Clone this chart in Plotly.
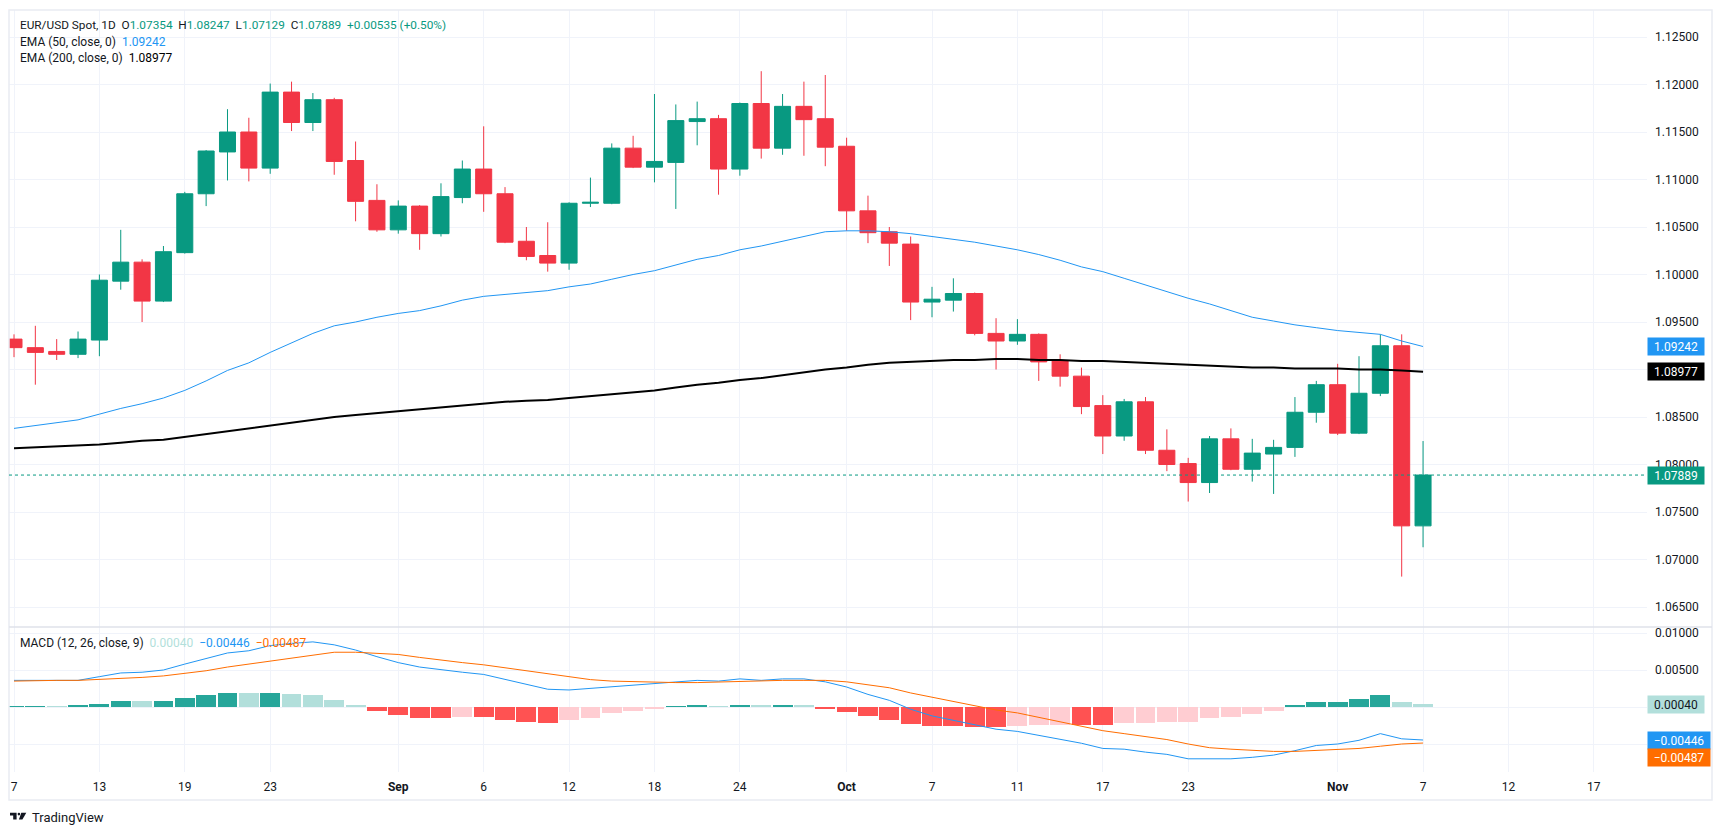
import plotly.graph_objects as go

# ---------------- data ----------------
dates = ["2024-08-07","2024-08-08","2024-08-09","2024-08-12","2024-08-13","2024-08-14","2024-08-15","2024-08-16",
         "2024-08-19","2024-08-20","2024-08-21","2024-08-22","2024-08-23","2024-08-26","2024-08-27","2024-08-28",
         "2024-08-29","2024-08-30","2024-09-02","2024-09-03","2024-09-04","2024-09-05","2024-09-06","2024-09-09",
         "2024-09-10","2024-09-11","2024-09-12","2024-09-13","2024-09-16","2024-09-17","2024-09-18","2024-09-19",
         "2024-09-20","2024-09-23","2024-09-24","2024-09-25","2024-09-26","2024-09-27","2024-09-30","2024-10-01",
         "2024-10-02","2024-10-03","2024-10-04","2024-10-07","2024-10-08","2024-10-09","2024-10-10","2024-10-11",
         "2024-10-14","2024-10-15","2024-10-16","2024-10-17","2024-10-18","2024-10-21","2024-10-22","2024-10-23",
         "2024-10-24","2024-10-25","2024-10-28","2024-10-29","2024-10-30","2024-10-31","2024-11-01","2024-11-04",
         "2024-11-05","2024-11-06","2024-11-07"]

opens  = [1.0932,1.0923,1.0919,1.0916,1.0931,1.0993,1.1013,1.0972,1.1023,1.1085,1.1129,1.1150,1.1112,1.1192,1.1160,1.1184,
          1.1120,1.1078,1.1047,1.1072,1.1043,1.1081,1.1111,1.1085,1.1035,1.1020,1.1012,1.1075,1.1075,1.1133,1.1113,1.1118,
          1.1161,1.1164,1.1111,1.1180,1.1133,1.1177,1.1164,1.1135,1.1067,1.1045,1.1032,1.0971,1.0973,1.0980,1.0938,1.0930,
          1.0937,1.0909,1.0893,1.0862,1.0830,1.0866,1.0815,1.0801,1.0781,1.0827,1.0795,1.0811,1.0818,1.0855,1.0884,1.0833,
          1.0875,1.0925,1.07354]
highs  = [1.0937,1.0946,1.0932,1.0940,1.1000,1.1047,1.1016,1.1030,1.1087,1.1131,1.1174,1.1165,1.1201,1.1203,1.1191,1.1186,
          1.1140,1.1095,1.1078,1.1073,1.1096,1.1120,1.1156,1.1092,1.1050,1.1055,1.1076,1.1102,1.1138,1.1146,1.1190,1.1179,
          1.1182,1.1168,1.1181,1.1214,1.1190,1.1203,1.1210,1.1144,1.1083,1.1050,1.1040,1.0987,1.0996,1.0981,1.0954,1.0953,
          1.0938,1.0916,1.0902,1.0873,1.0869,1.0871,1.0837,1.0807,1.0830,1.0838,1.0827,1.0826,1.0871,1.0888,1.0906,1.0914,
          1.0937,1.0937,1.08247]
lows   = [1.0913,1.0884,1.0910,1.0912,1.0914,1.0984,1.0950,1.0971,1.1022,1.1072,1.1099,1.1098,1.1106,1.1151,1.1151,1.1105,
          1.1056,1.1045,1.1043,1.1026,1.1040,1.1075,1.1066,1.1033,1.1015,1.1003,1.1005,1.1071,1.1074,1.1112,1.1097,1.1069,
          1.1136,1.1084,1.1104,1.1122,1.1126,1.1125,1.1114,1.1046,1.1033,1.1009,1.0952,1.0955,1.0961,1.0936,1.0900,1.0926,
          1.0888,1.0882,1.0853,1.0811,1.0825,1.0811,1.0793,1.0761,1.0770,1.0794,1.0782,1.0769,1.0808,1.0844,1.0831,1.0832,
          1.0872,1.0682,1.07129]
closes = [1.0923,1.0918,1.0916,1.0932,1.0994,1.1013,1.0972,1.1024,1.1085,1.1130,1.1150,1.1112,1.1192,1.1160,1.1184,1.1119,
          1.1077,1.1047,1.1072,1.1043,1.1082,1.1111,1.1085,1.1034,1.1019,1.1012,1.1075,1.1076,1.1133,1.1113,1.1119,1.1162,
          1.1164,1.1111,1.1180,1.1133,1.1177,1.1163,1.1134,1.1067,1.1044,1.1033,1.0971,1.0974,1.0980,1.0938,1.0930,1.0937,
          1.0908,1.0893,1.0861,1.0830,1.0866,1.0815,1.0800,1.0781,1.0827,1.0795,1.0812,1.0818,1.0855,1.0884,1.0833,1.0875,
          1.0925,1.07354,1.07889]

ema50  = [1.0838,1.0841,1.0844,1.0847,1.0853,1.0859,1.0864,1.0870,1.0878,1.0888,
          1.0899,1.0907,1.0918,1.0928,1.0938,1.0946,1.0950,1.0955,1.0959,1.0962,
          1.0967,1.0973,1.0977,1.0979,1.0981,1.0983,1.0987,1.0990,1.0995,1.1000,
          1.1004,1.1010,1.1016,1.1020,1.1026,1.1030,1.1035,1.1040,1.1045,1.1046,
          1.1046,1.1045,1.1043,1.1040,1.1037,1.1034,1.1030,1.1026,1.1021,1.1015,
          1.1008,1.1003,1.0996,1.0989,1.0982,1.0975,1.0969,1.0962,1.0955,1.0951,
          1.0947,1.0944,1.0941,1.0939,1.0937,1.0930,1.09242]
ema200 = [1.0817,1.0818,1.0819,1.0820,1.0821,1.0823,1.0825,1.0826,1.0829,1.0832,
          1.0835,1.0838,1.0841,1.0844,1.0847,1.0850,1.0852,1.0854,1.0856,1.0858,
          1.0860,1.0862,1.0864,1.0866,1.0867,1.0868,1.0870,1.0872,1.0874,1.0876,
          1.0878,1.0881,1.0884,1.0886,1.0889,1.0891,1.0894,1.0897,1.0900,1.0902,
          1.0905,1.0907,1.0908,1.0909,1.0910,1.0910,1.0911,1.0911,1.0910,1.0910,
          1.0909,1.0909,1.0908,1.0907,1.0906,1.0905,1.0904,1.0903,1.0902,1.0902,
          1.0901,1.0901,1.0901,1.0900,1.0900,1.0899,1.08977]

macd   = [0.0036,0.0036,0.0036,0.0036,0.0041,0.0046,0.0047,0.0050,0.0058,0.0066,
          0.0073,0.0076,0.0083,0.0086,0.0088,0.0084,0.0077,0.0068,0.0060,0.0054,
          0.0050,0.0047,0.0044,0.0037,0.0030,0.0024,0.0023,0.0025,0.0028,0.0030,
          0.0031,0.0034,0.0036,0.0035,0.0038,0.0036,0.0038,0.0038,0.0034,0.0027,
          0.0017,0.0009,-0.0003,-0.0012,-0.0018,-0.0025,-0.0030,-0.0033,-0.0038,-0.0043,
          -0.0049,-0.0056,-0.0057,-0.0061,-0.0064,-0.0070,-0.0070,-0.0070,-0.0068,-0.0065,
          -0.0059,-0.0052,-0.0050,-0.0045,-0.0036,-0.0043,-0.00446]
signal = [0.0035,0.0036,0.0036,0.0036,0.0037,0.0038,0.0040,0.0042,0.0045,0.0049,
          0.0054,0.0058,0.0063,0.0067,0.0071,0.0074,0.0074,0.0073,0.0071,0.0067,
          0.0063,0.0060,0.0057,0.0053,0.0049,0.0044,0.0040,0.0037,0.0035,0.0034,
          0.0034,0.0033,0.0033,0.0034,0.0035,0.0035,0.0036,0.0036,0.0036,0.0034,
          0.0030,0.0026,0.0019,0.0013,0.0007,0.0001,-0.0004,-0.0008,-0.0014,-0.0019,
          -0.0025,-0.0032,-0.0036,-0.0040,-0.0044,-0.0050,-0.0055,-0.0057,-0.0059,-0.0060,
          -0.0060,-0.0059,-0.0057,-0.0056,-0.0053,-0.0050,-0.00487]
hist   = [0.00003,0.00003,0.00002,0.00018,0.00045,0.00086,0.00077,0.00086,0.00126,0.00167,
          0.00194,0.00190,0.00195,0.00180,0.00167,0.00099,0.00018,-0.00059,-0.00104,-0.00144,
          -0.00145,-0.00131,-0.00135,-0.00171,-0.00198,-0.00212,-0.00171,-0.00144,-0.00086,-0.00059,
          -0.00032,0.00005,0.00032,0.00005,0.00032,0.00014,0.00032,0.00014,-0.00023,-0.00072,
          -0.00126,-0.00171,-0.00225,-0.00252,-0.00253,-0.00266,-0.00267,-0.00252,-0.00239,-0.00238,
          -0.00240,-0.00241,-0.00212,-0.00211,-0.00198,-0.00197,-0.00144,-0.00131,-0.00090,-0.00050,
          0.00014,0.00072,0.00074,0.00113,0.00167,0.00072,0.00040]

# time-axis labels (bar positions; the last two fall in the empty future space)
tick_pos  = [0, 4, 8, 12, 18, 22, 26, 30, 34, 39, 43, 47, 51, 55, 62, 66, 70, 74]
tick_text = ["7", "13", "19", "23", "<b>Sep</b>", "6", "12", "18", "24", "<b>Oct</b>",
             "7", "11", "17", "23", "<b>Nov</b>", "7", "12", "17"]
price_ticks = [1.065, 1.070, 1.075, 1.080, 1.085, 1.090, 1.095, 1.100, 1.105, 1.110, 1.115, 1.120, 1.125]
macd_ticks = [0.010, 0.005, 0.0, -0.005]

# ---------------- styling ----------------
W, H = 1723, 835
FONT = "Roboto, 'Liberation Sans', sans-serif"
TXT = "#131722"
UP, DOWN = "#089981", "#F23645"
GRID = "#F0F3FA"
BLUE, ORANGE = "#2196F3", "#FF6D00"

def px(x):
    return x / W

def py(y):
    return 1 - y / H

def fmt(v):
    return f"{v:.5f}".replace("-", "\u2212")

idx = list(range(len(dates)))
x_range = [-0.234, 76.49]

hist_colors = []
for i, h in enumerate(hist):
    prev = hist[i - 1] if i > 0 else h
    if h >= 0:
        hist_colors.append("#26A69A" if h >= prev else "#B2DFDB")
    else:
        hist_colors.append("#FF5252" if h <= prev else "#FFCDD2")

fig = go.Figure()
fig.add_trace(go.Candlestick(
    x=idx, open=opens, high=highs, low=lows, close=closes,
    increasing=dict(line=dict(color=UP, width=1), fillcolor=UP),
    decreasing=dict(line=dict(color=DOWN, width=1), fillcolor=DOWN),
    whiskerwidth=0, xaxis="x", yaxis="y", showlegend=False, hoverinfo="skip"))
fig.add_trace(go.Scatter(x=idx, y=ema50, mode="lines", line=dict(color=BLUE, width=1),
                         xaxis="x", yaxis="y", showlegend=False, hoverinfo="skip"))
fig.add_trace(go.Scatter(x=idx, y=ema200, mode="lines", line=dict(color="#000000", width=2),
                         xaxis="x", yaxis="y", showlegend=False, hoverinfo="skip"))

fig.add_trace(go.Bar(x=idx, y=hist, marker=dict(color=hist_colors, line=dict(width=0)), width=0.93,
                     xaxis="x2", yaxis="y2", showlegend=False, hoverinfo="skip"))
fig.add_trace(go.Scatter(x=idx, y=macd, mode="lines", line=dict(color=BLUE, width=1),
                         xaxis="x2", yaxis="y2", showlegend=False, hoverinfo="skip"))
fig.add_trace(go.Scatter(x=idx, y=signal, mode="lines", line=dict(color=ORANGE, width=1),
                         xaxis="x2", yaxis="y2", showlegend=False, hoverinfo="skip"))

price_text = [("" if abs(v - 1.09) < 1e-9 else f"{v:.5f}") for v in price_ticks]
macd_text = [("" if v <= 0 else f"{v:.5f}") for v in macd_ticks]

axis_font = dict(family=FONT, size=12, color=TXT)
fig.update_layout(
    width=W, height=H, margin=dict(l=0, r=0, t=0, b=0),
    paper_bgcolor="white", plot_bgcolor="white",
    boxgap=0.25, boxgroupgap=0, bargap=0,
    font=dict(family=FONT, size=12, color=TXT),
    xaxis=dict(domain=[px(9), px(1647)], range=x_range, anchor="y",
               tickvals=tick_pos, showticklabels=False, showgrid=True, gridcolor=GRID,
               zeroline=False, showline=False, ticks="", rangeslider=dict(visible=False),
               fixedrange=True),
    yaxis=dict(domain=[py(627), py(10)], range=[1.062895, 1.127842], anchor="x", side="right",
               tickvals=price_ticks, ticktext=price_text, showgrid=True, gridcolor=GRID,
               zeroline=False, showline=False, ticks="", tickfont=axis_font,
               ticklabelstandoff=7, fixedrange=True),
    xaxis2=dict(domain=[px(9), px(1647)], range=x_range, anchor="y2",
                tickvals=tick_pos, ticktext=tick_text, showgrid=True, gridcolor=GRID,
                zeroline=False, showline=False, ticks="", tickfont=axis_font,
                ticklabelstandoff=6, fixedrange=True),
    yaxis2=dict(domain=[py(772), py(627)], range=[-0.008784, 0.010811], anchor="x2", side="right",
                tickvals=macd_ticks, ticktext=macd_text, showgrid=True, gridcolor=GRID,
                zeroline=False, showline=False, ticks="", tickfont=axis_font,
                ticklabelstandoff=7, fixedrange=True),
)

shapes = [
    # outer frame and pane divider
    dict(type="rect", xref="paper", yref="paper", x0=px(9), x1=px(1712), y0=py(800), y1=py(10),
         line=dict(color="#E9ECF2", width=1.5), fillcolor="rgba(0,0,0,0)", layer="above"),
    dict(type="line", xref="paper", yref="paper", x0=px(9), x1=px(1712), y0=py(627), y1=py(627),
         line=dict(color="#DFE2EA", width=1.5), layer="above"),
    # last price dotted line
    dict(type="line", xref="paper", yref="y", x0=px(9), x1=px(1647), y0=closes[-1], y1=closes[-1],
         line=dict(color=UP, width=1, dash="dot"), layer="above"),
    # TradingView logo
    dict(type="path", xref="paper", yref="paper", fillcolor=TXT, line=dict(width=0),
         path=f"M{px(10)},{py(812.7)} L{px(16.6)},{py(812.7)} L{px(16.6)},{py(819.5)} L{px(13.2)},{py(819.5)} "
              f"L{px(13.2)},{py(815.4)} L{px(10)},{py(815.4)} Z"),
    dict(type="circle", xref="paper", yref="paper", fillcolor=TXT, line=dict(width=0),
         x0=px(17.6), x1=px(20.2), y0=py(815.4), y1=py(812.8)),
    dict(type="path", xref="paper", yref="paper", fillcolor=TXT, line=dict(width=0),
         path=f"M{px(21.3)},{py(812.7)} L{px(26.3)},{py(812.7)} L{px(22.4)},{py(819.5)} L{px(18.9)},{py(819.5)} Z"),
]
fig.update_layout(shapes=shapes)

def tag(value, text, bg, fg, yref, w=52, yshift=0):
    return dict(xref="paper", x=px(1647), xanchor="left", yref=yref, y=value, yanchor="middle",
                text=text, showarrow=False, bgcolor=bg, font=dict(family=FONT, size=12, color=fg),
                width=w, height=13, borderpad=2, align="center", yshift=yshift)

def legend(x, y, html, size=12):
    return dict(xref="paper", yref="paper", x=px(x), y=py(y), xanchor="left", yanchor="middle",
                text=html, showarrow=False, align="left", font=dict(family=FONT, size=size, color=TXT))

g = f"<span style='color:{UP}'>"
sp = "&nbsp;&nbsp;"
chg = closes[-1] - closes[-2]
line1 = (f"EUR/USD Spot, 1D{sp}O{g}{opens[-1]:.5f}</span>{sp}H{g}{highs[-1]:.5f}</span>{sp}"
         f"L{g}{lows[-1]:.5f}</span>{sp}C{g}{closes[-1]:.5f}</span>{sp}"
         f"{g}{chg:+.5f} ({chg / closes[-2] * 100:+.2f}%)</span>")
line2 = f"EMA (50, close, 0){sp}<span style='color:{BLUE}'>{ema50[-1]:.5f}</span>"
line3 = f"EMA (200, close, 0){sp}<span style='color:#000000'>{ema200[-1]:.5f}</span>"
line4 = (f"MACD (12, 26, close, 9){sp}<span style='color:#B2DFDB'>{fmt(hist[-1])}</span>{sp}"
         f"<span style='color:{BLUE}'>{fmt(macd[-1])}</span>{sp}"
         f"<span style='color:{ORANGE}'>{fmt(signal[-1])}</span>")

annotations = [
    legend(18, 25, line1, size=11.8), legend(18, 42, line2), legend(18, 58, line3), legend(18, 643, line4),
    legend(30, 817, "TradingView", size=13),
    tag(ema50[-1], f"{ema50[-1]:.5f}", BLUE, "white", "y"),
    tag(ema200[-1], f"{ema200[-1]:.5f}", "#000000", "white", "y"),
    tag(closes[-1], f"{closes[-1]:.5f}", UP, "white", "y"),
    tag(hist[-1], fmt(hist[-1]), "#B2DFDB", TXT, "y2"),
    tag(macd[-1], fmt(macd[-1]), BLUE, "white", "y2", w=58),
    tag(signal[-1], fmt(signal[-1]), ORANGE, "white", "y2", w=58, yshift=-14),
]
fig.update_layout(annotations=annotations)

fig.write_html("out.html", config={"displayModeBar": False},
               post_script="document.body.style.margin='0px';document.body.style.overflow='hidden';")
